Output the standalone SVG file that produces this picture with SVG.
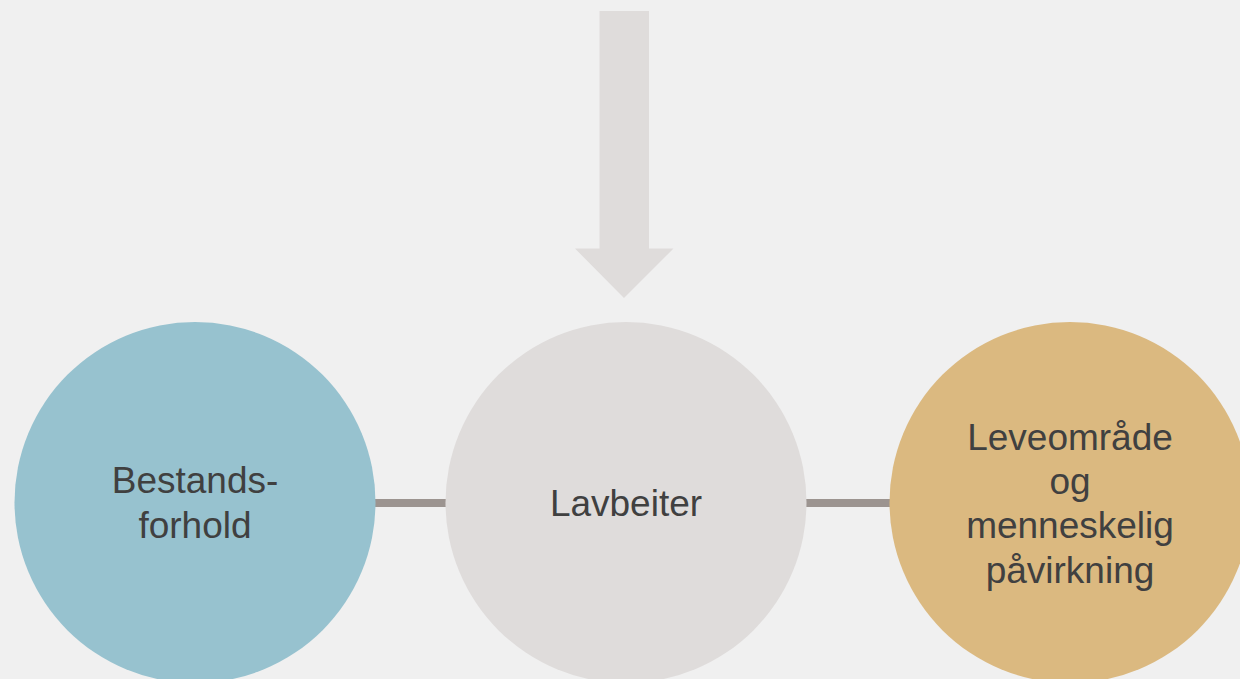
<svg xmlns="http://www.w3.org/2000/svg" width="1240" height="679" viewBox="0 0 1240 679">
<style>
.t{font-family:"Liberation Sans",Arial,sans-serif;font-size:37px;fill:#404040;text-anchor:middle}
.c{stroke:#9c9490;stroke-width:8}
</style>
<rect width="1240" height="679" fill="#f0f0f0"/>
<g id="arrow">
<polygon points="599.5,11 649,11 649,248.5 673.5,248.5 624,298 575,248.5 599.5,248.5" fill="#dfdcdb"/>
</g>
<g id="connectors">
<line class="c" x1="374" y1="503" x2="447" y2="503"/>
<line class="c" x1="805" y1="503" x2="891" y2="503"/>
</g>
<g id="bestandsforhold">
<circle cx="195" cy="502.5" r="180.5" fill="#97c2cf"/>
<text class="t" x="195" y="493">Bestands-</text>
<text class="t" x="195" y="538">forhold</text>
</g>
<g id="lavbeiter">
<circle cx="626" cy="502.5" r="180.5" fill="#dfdcdb"/>
<text class="t" x="626" y="516">Lavbeiter</text>
</g>
<g id="leveomraade">
<circle cx="1070" cy="502.5" r="180.5" fill="#dbb980"/>
<text class="t" x="1070" y="450">Leveområde</text>
<text class="t" x="1070" y="494">og</text>
<text class="t" x="1070" y="538">menneskelig</text>
<text class="t" x="1070" y="583">påvirkning</text>
</g>
</svg>
